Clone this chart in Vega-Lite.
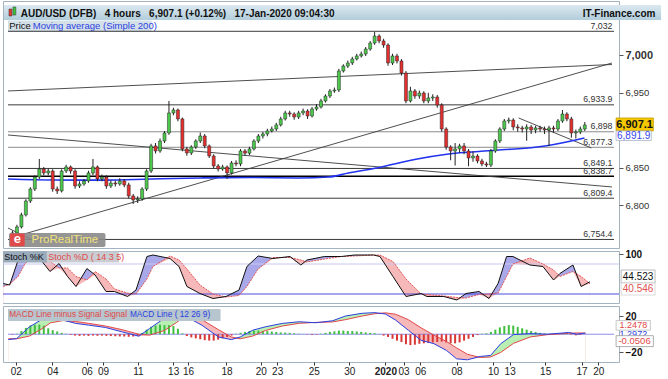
{
"$schema":"https://vega.github.io/schema/vega-lite/v6.json",
"background":"white",
"padding":{"left":0,"top":0,"right":0,"bottom":0},
"spacing":3,
"bounds":"flush",
"config":{"font":"Liberation Sans","view":{"stroke":"#a3b3bf","strokeWidth":1}},
"datasets":{
"one":[{}],
"candles":[
{"b":1.5,"o":6754,"h":6766,"l":6751,"c":6763.1},{"b":3,"o":6763.1,"h":6774,"l":6760,"c":6771.1},{"b":4.5,"o":6771.1,"h":6790,"l":6769,"c":6787.1},{"b":6,"o":6787.1,"h":6808,"l":6785,"c":6805.7},{"b":7.5,"o":6805.7,"h":6824,"l":6803,"c":6821.7},{"b":9,"o":6821.7,"h":6840,"l":6819,"c":6837.7},{"b":10.5,"o":6837.7,"h":6861.7,"l":6835,"c":6848.4},{"b":12,"o":6848.4,"h":6851,"l":6840,"c":6843.1},{"b":13.5,"o":6843.1,"h":6849,"l":6840,"c":6845.7},{"b":15,"o":6845.7,"h":6848,"l":6818,"c":6821.7},
{"b":16.5,"o":6821.7,"h":6825,"l":6815,"c":6819.1},{"b":18,"o":6819.1,"h":6848,"l":6817,"c":6845.7},{"b":19.5,"o":6845.7,"h":6854,"l":6843,"c":6851.1},{"b":21,"o":6851.1,"h":6853,"l":6842,"c":6845.7},{"b":22.5,"o":6845.7,"h":6848,"l":6822,"c":6825.7},{"b":24,"o":6825.7,"h":6832,"l":6823,"c":6828.4},{"b":25.5,"o":6828.4,"h":6835,"l":6826,"c":6832.4},{"b":27,"o":6832.4,"h":6846,"l":6830,"c":6843.1},{"b":28.5,"o":6843.1,"h":6861.7,"l":6840,"c":6851.1},{"b":30,"o":6851.1,"h":6853,"l":6832,"c":6835.1},
{"b":31.5,"o":6835.1,"h":6841,"l":6832,"c":6837.7},{"b":33,"o":6837.7,"h":6840,"l":6822,"c":6825.7},{"b":34.5,"o":6825.7,"h":6833,"l":6823,"c":6829.7},{"b":36,"o":6829.7,"h":6833,"l":6825,"c":6828.4},{"b":37.5,"o":6828.4,"h":6836,"l":6826,"c":6832.4},{"b":39,"o":6832.4,"h":6835,"l":6824,"c":6827.1},{"b":40.5,"o":6827.1,"h":6830,"l":6809,"c":6812.4},{"b":42,"o":6812.4,"h":6815,"l":6801.7,"c":6807.1},{"b":43.5,"o":6807.1,"h":6812,"l":6803,"c":6808.4},{"b":45,"o":6808.4,"h":6824,"l":6806,"c":6821.7},
{"b":46.5,"o":6821.7,"h":6848,"l":6819,"c":6845.7},{"b":48,"o":6845.7,"h":6882,"l":6843,"c":6879.1},{"b":49.5,"o":6879.1,"h":6883,"l":6869,"c":6872.4},{"b":51,"o":6872.4,"h":6889,"l":6870,"c":6885.7},{"b":52.5,"o":6885.7,"h":6899,"l":6883,"c":6896.4},{"b":54,"o":6896.4,"h":6939.1,"l":6894,"c":6923.1},{"b":55.5,"o":6923.1,"h":6930,"l":6920,"c":6927.1},{"b":57,"o":6927.1,"h":6929,"l":6912,"c":6915.1},{"b":58.5,"o":6915.1,"h":6917,"l":6872,"c":6875.1},{"b":60,"o":6875.1,"h":6878,"l":6866,"c":6869.7},
{"b":61.5,"o":6869.7,"h":6880,"l":6867,"c":6877.7},{"b":63,"o":6877.7,"h":6888,"l":6875,"c":6885.7},{"b":64.5,"o":6885.7,"h":6897,"l":6883,"c":6892.4},{"b":66,"o":6892.4,"h":6895,"l":6876,"c":6879.1},{"b":67.5,"o":6879.1,"h":6881,"l":6863,"c":6865.7},{"b":69,"o":6865.7,"h":6868,"l":6849,"c":6852.4},{"b":70.5,"o":6852.4,"h":6855,"l":6845,"c":6848.4},{"b":72,"o":6848.4,"h":6854,"l":6846,"c":6851.1},{"b":73.5,"o":6851.1,"h":6853,"l":6835,"c":6843.1},{"b":75,"o":6843.1,"h":6859,"l":6841,"c":6856.4},
{"b":76.5,"o":6856.4,"h":6860,"l":6852,"c":6855.1},{"b":78,"o":6855.1,"h":6875,"l":6852,"c":6872.4},{"b":79.5,"o":6872.4,"h":6875,"l":6866,"c":6869.5},{"b":81,"o":6869.5,"h":6878,"l":6867,"c":6875.1},{"b":82.5,"o":6875.1,"h":6888,"l":6873,"c":6885.7},{"b":84,"o":6885.7,"h":6895,"l":6883,"c":6892.4},{"b":85.5,"o":6892.4,"h":6898,"l":6889,"c":6895.1},{"b":87,"o":6895.1,"h":6902,"l":6892,"c":6899.1},{"b":88.5,"o":6899.1,"h":6905,"l":6897,"c":6901.7},{"b":90,"o":6901.7,"h":6910,"l":6899,"c":6907.1},
{"b":91.5,"o":6907.1,"h":6918,"l":6905,"c":6915.1},{"b":93,"o":6915.1,"h":6926,"l":6913,"c":6923.1},{"b":94.5,"o":6923.1,"h":6926,"l":6918,"c":6921.7},{"b":96,"o":6921.7,"h":6924,"l":6914,"c":6917.7},{"b":97.5,"o":6917.7,"h":6926,"l":6915,"c":6923.1},{"b":99,"o":6923.1,"h":6929,"l":6920,"c":6925.7},{"b":100.5,"o":6925.7,"h":6928,"l":6915,"c":6919.1},{"b":102,"o":6919.1,"h":6931,"l":6917,"c":6928.4},{"b":103.5,"o":6928.4,"h":6935,"l":6926,"c":6931.1},{"b":105,"o":6931.1,"h":6942,"l":6929,"c":6939.1},
{"b":106.5,"o":6939.1,"h":6948,"l":6937,"c":6945.7},{"b":108,"o":6945.7,"h":6955,"l":6943,"c":6952.4},{"b":109.5,"o":6952.4,"h":6957,"l":6950,"c":6953.7},{"b":111,"o":6953.7,"h":6982,"l":6951,"c":6979.1},{"b":112.5,"o":6979.1,"h":6988,"l":6977,"c":6985.7},{"b":114,"o":6985.7,"h":6993,"l":6983,"c":6989.7},{"b":115.5,"o":6989.7,"h":6998,"l":6987,"c":6995.1},{"b":117,"o":6995.1,"h":7002,"l":6993,"c":6999.1},{"b":118.5,"o":6999.1,"h":7005,"l":6997,"c":7001.7},{"b":120,"o":7001.7,"h":7011,"l":6999,"c":7008.4},
{"b":121.5,"o":7008.4,"h":7019,"l":7006,"c":7016.4},{"b":123,"o":7016.4,"h":7031,"l":7014,"c":7025.7},{"b":124.5,"o":7025.7,"h":7028,"l":7016,"c":7019.1},{"b":126,"o":7019.1,"h":7022,"l":7010,"c":7013.7},{"b":127.5,"o":7013.7,"h":7016,"l":6986,"c":6989.7},{"b":129,"o":6989.7,"h":7002,"l":6987,"c":6999.1},{"b":130.5,"o":6999.1,"h":7002,"l":6989,"c":6992.4},{"b":132,"o":6992.4,"h":6995,"l":6973,"c":6976.4},{"b":133.5,"o":6976.4,"h":6979,"l":6936,"c":6939.1},{"b":135,"o":6939.1,"h":6958,"l":6937,"c":6952.4},
{"b":136.5,"o":6952.4,"h":6955,"l":6942,"c":6945.7},{"b":138,"o":6945.7,"h":6953,"l":6942,"c":6949.7},{"b":139.5,"o":6949.7,"h":6952,"l":6936,"c":6939.1},{"b":141,"o":6939.1,"h":6950,"l":6936,"c":6943.1},{"b":142.5,"o":6943.1,"h":6948,"l":6939,"c":6944.4},{"b":144,"o":6944.4,"h":6947,"l":6930,"c":6933.7},{"b":145.5,"o":6933.7,"h":6936,"l":6898,"c":6901.7},{"b":147,"o":6901.7,"h":6904,"l":6874,"c":6877.7},{"b":148.5,"o":6877.7,"h":6880,"l":6860,"c":6872.4},{"b":150,"o":6872.4,"h":6883,"l":6853,"c":6875.1},
{"b":151.5,"o":6875.1,"h":6882,"l":6870,"c":6879.1},{"b":153,"o":6879.1,"h":6883,"l":6868,"c":6872.4},{"b":154.5,"o":6872.4,"h":6875,"l":6852,"c":6863.1},{"b":156,"o":6863.1,"h":6872,"l":6858,"c":6865.7},{"b":157.5,"o":6865.7,"h":6868,"l":6856,"c":6859.1},{"b":159,"o":6859.1,"h":6862,"l":6852,"c":6855.1},{"b":160.5,"o":6855.1,"h":6858,"l":6851,"c":6853.7},{"b":162,"o":6853.7,"h":6875,"l":6851,"c":6872.4},{"b":163.5,"o":6872.4,"h":6888,"l":6870,"c":6885.7},{"b":165,"o":6885.7,"h":6904,"l":6883,"c":6901.7},
{"b":166.5,"o":6901.7,"h":6915,"l":6899,"c":6912.4},{"b":168,"o":6912.4,"h":6917,"l":6909,"c":6913.7},{"b":169.5,"o":6913.7,"h":6916,"l":6900,"c":6904.4},{"b":171,"o":6904.4,"h":6908,"l":6898,"c":6903.1},{"b":172.5,"o":6903.1,"h":6906,"l":6897,"c":6901.7},{"b":174,"o":6901.7,"h":6908,"l":6886,"c":6904.4},{"b":175.5,"o":6904.4,"h":6907,"l":6895,"c":6900.4},{"b":177,"o":6900.4,"h":6906,"l":6896,"c":6903.1},{"b":178.5,"o":6903.1,"h":6906,"l":6898,"c":6901.7},{"b":180,"o":6901.7,"h":6905,"l":6895,"c":6900.4},
{"b":181.5,"o":6900.4,"h":6906,"l":6879,"c":6903.1},{"b":183,"o":6903.1,"h":6906,"l":6897,"c":6901.7},{"b":184.5,"o":6901.7,"h":6915,"l":6899,"c":6912.4},{"b":186,"o":6912.4,"h":6927,"l":6910,"c":6921.7},{"b":187.5,"o":6921.7,"h":6924,"l":6912,"c":6915.1},{"b":189,"o":6915.1,"h":6918,"l":6890,"c":6896.4},{"b":190.5,"o":6896.4,"h":6901,"l":6889,"c":6897.7},{"b":192,"o":6897.7,"h":6905,"l":6895,"c":6901.7},{"b":193.5,"o":6901.7,"h":6911,"l":6899,"c":6907.1}
],
"ma":[{"b":0,"v":6835},{"b":15.2,"v":6833.7},{"b":31.7,"v":6833.5},{"b":48.2,"v":6835},{"b":64.7,"v":6836.4},{"b":81.2,"v":6837},{"b":97.7,"v":6836.4},{"b":107.6,"v":6837.7},{"b":114.2,"v":6843},{"b":124.1,"v":6850},{"b":137.3,"v":6861.7},{"b":147.2,"v":6868},{"b":163.7,"v":6873.3},{"b":180.2,"v":6879},{"b":193.4,"v":6889.7}],
"levels":[{"v":7032,"label":"7,032","kind":"a"},{"v":6933.9,"label":"6,933.9","kind":"a"},{"v":6898,"label":"6,898","kind":"b"},{"v":6877.3,"label":"6,877.3","kind":"b"},{"v":6849.1,"label":"6,849.1","kind":"a"},{"v":6838.7,"label":"6,838.7","kind":"c"},{"v":6809.4,"label":"6,809.4","kind":"a"},{"v":6754.4,"label":"6,754.4","kind":"a"}],
"trend":[{"g":"A","b":0,"v":6952.4},{"g":"A","b":202.6,"v":6987.7},{"g":"B","b":2,"v":6757.7},{"g":"B","b":202.6,"v":6989.7},{"g":"C","b":0,"v":6893.7},{"g":"C","b":202.6,"v":6824.4},{"g":"D","b":171.3,"v":6916.4},{"g":"D","b":195.7,"v":6876.4},{"g":"E","b":0,"v":6769.7},{"g":"E","b":8,"v":6754}],
"st":[{"b":0.1,"k":41,"d":35,"lo":35},{"b":2.2,"k":38,"d":40,"lo":38},{"b":5,"k":88,"d":55,"lo":55},{"b":7.2,"k":98,"d":80,"lo":80},{"b":9.9,"k":98,"d":95,"lo":95},{"b":12.9,"k":85,"d":95,"lo":85},{"b":15.5,"k":65,"d":85,"lo":65},{"b":18.5,"k":81,"d":72,"lo":72},{"b":21.3,"k":55,"d":72,"lo":55},{"b":24.1,"k":35,"d":55,"lo":35},{"b":27.7,"k":71,"d":48,"lo":48},{"b":30.4,"k":58,"d":65,"lo":58},{"b":34,"k":25,"d":50,"lo":25},{"b":36.8,"k":25,"d":30,"lo":25},{"b":41.1,"k":15,"d":22,"lo":15},{"b":43.9,"k":28,"d":20,"lo":20},{"b":47.5,"k":95,"d":50,"lo":50},{"b":49.5,"k":98,"d":75,"lo":75},{"b":55.1,"k":91,"d":96,"lo":91},{"b":58.1,"k":75,"d":88,"lo":75},{"b":60.7,"k":35,"d":70,"lo":35},{"b":65,"k":21,"d":38,"lo":21},{"b":69.3,"k":11,"d":20,"lo":11},{"b":73.6,"k":15,"d":14,"lo":14},{"b":77.9,"k":28,"d":17,"lo":17},{"b":80.5,"k":75,"d":35,"lo":35},{"b":84.2,"k":96,"d":70,"lo":70},{"b":89.1,"k":91,"d":93,"lo":91},{"b":94.7,"k":95,"d":93,"lo":93},{"b":98.3,"k":78,"d":88,"lo":78},{"b":100.3,"k":88,"d":84,"lo":84},{"b":106.1,"k":95,"d":90,"lo":90},{"b":111.7,"k":95,"d":95,"lo":95},{"b":116,"k":98,"d":96,"lo":96},{"b":122.3,"k":98,"d":98,"lo":98},{"b":124.4,"k":95,"d":98,"lo":95},{"b":128.7,"k":55,"d":85,"lo":55},{"b":133,"k":15,"d":50,"lo":15},{"b":138,"k":21,"d":20,"lo":20},{"b":139.9,"k":15,"d":19,"lo":15},{"b":145.5,"k":15,"d":16,"lo":15},{"b":149.8,"k":8,"d":13,"lo":8},{"b":152.8,"k":21,"d":12,"lo":12},{"b":157.1,"k":25,"d":19,"lo":19},{"b":160.4,"k":11,"d":20,"lo":11},{"b":163.4,"k":41,"d":22,"lo":22},{"b":166.2,"k":95,"d":55,"lo":55},{"b":168.3,"k":95,"d":80,"lo":80},{"b":173.9,"k":78,"d":92,"lo":78},{"b":178.2,"k":75,"d":80,"lo":75},{"b":181.7,"k":48,"d":68,"lo":48},{"b":183.8,"k":61,"d":55,"lo":55},{"b":188.1,"k":78,"d":65,"lo":65},{"b":190.8,"k":35,"d":55,"lo":35},{"b":193.7,"k":44.5,"d":40.5,"lo":40.5}],
"md":[{"b":0.1,"m":-5.9,"s":-5,"lo":-5.9},{"b":2.9,"m":-4.8,"s":-5,"lo":-5},{"b":7.2,"m":8.1,"s":-2,"lo":-2},{"b":11.4,"m":16.3,"s":6,"lo":6},{"b":14.2,"m":17.4,"s":12.5,"lo":12.5},{"b":18.5,"m":15.6,"s":15,"lo":15},{"b":22.7,"m":11.9,"s":14,"lo":11.9},{"b":27,"m":10,"s":12,"lo":10},{"b":32.7,"m":7.4,"s":9,"lo":7.4},{"b":38.3,"m":2.6,"s":5,"lo":2.6},{"b":43.9,"m":-2.2,"s":0,"lo":-2.2},{"b":47.5,"m":6.3,"s":-1,"lo":-1},{"b":52.4,"m":17.4,"s":4,"lo":4},{"b":56.6,"m":23.7,"s":13,"lo":13},{"b":59.4,"m":20,"s":20,"lo":20},{"b":65,"m":10,"s":16,"lo":10},{"b":70.6,"m":-3,"s":5,"lo":-3},{"b":74.9,"m":-5.9,"s":-3,"lo":-5.9},{"b":77.9,"m":-3,"s":-5,"lo":-5},{"b":82.1,"m":4.4,"s":-2,"lo":-2},{"b":86.3,"m":8.1,"s":4,"lo":4},{"b":92,"m":11.9,"s":9,"lo":9},{"b":97.7,"m":13.7,"s":12,"lo":12},{"b":103.3,"m":12.6,"s":13,"lo":12.6},{"b":108.9,"m":14.8,"s":13.5,"lo":13.5},{"b":113.2,"m":20,"s":16,"lo":16},{"b":118.8,"m":23,"s":20,"lo":20},{"b":123.1,"m":23.7,"s":22.5,"lo":22.5},{"b":126.6,"m":22.2,"s":23.5,"lo":22.2},{"b":130,"m":15.6,"s":22,"lo":15.6},{"b":134.3,"m":4.4,"s":16,"lo":4.4},{"b":138.6,"m":-6.7,"s":7,"lo":-6.7},{"b":142.9,"m":-10.4,"s":-1,"lo":-10.4},{"b":147.1,"m":-17.8,"s":-8,"lo":-17.8},{"b":150.5,"m":-27,"s":-15,"lo":-27},{"b":154.1,"m":-28.1,"s":-22,"lo":-28.1},{"b":158.4,"m":-24.4,"s":-25.5,"lo":-25.5},{"b":161.9,"m":-23.3,"s":-25,"lo":-25},{"b":165.3,"m":-10.4,"s":-20,"lo":-20},{"b":169.6,"m":-0.4,"s":-10,"lo":-10},{"b":175.2,"m":0.7,"s":-3,"lo":-3},{"b":180.9,"m":0,"s":-0.5,"lo":-0.5},{"b":188.1,"m":1.9,"s":1,"lo":1},{"b":190.8,"m":0,"s":1.4,"lo":0},{"b":193.7,"m":1.25,"s":1.3,"lo":1.25}],
"hi":[{"b":1.5,"h":-0.5},{"b":3,"h":0.5},{"b":4.5,"h":3.5},{"b":6,"h":7},{"b":7.5,"h":9.5},{"b":9,"h":10.5},{"b":10.5,"h":10.5},{"b":12,"h":9.5},{"b":13.5,"h":6.5},{"b":15,"h":4.5},{"b":16.5,"h":3},{"b":18,"h":1.5},{"b":19.5,"h":0.5},{"b":21,"h":-0.8},{"b":22.5,"h":-1.5},{"b":24,"h":-1.8},{"b":25.5,"h":-1.5},{"b":27,"h":-1.8},{"b":28.5,"h":-1.5},{"b":30,"h":-1.7},{"b":31.5,"h":-1.5},{"b":33,"h":-1.8},{"b":34.5,"h":-2},{"b":36,"h":-2.2},{"b":37.5,"h":-2.4},{"b":39,"h":-2.5},{"b":40.5,"h":-2.8},{"b":42,"h":-2.5},{"b":43.5,"h":-1.8},{"b":45,"h":1.5},{"b":46.5,"h":5},{"b":48,"h":8},{"b":49.5,"h":9.5},{"b":51,"h":10.5},{"b":52.5,"h":10},{"b":54,"h":10},{"b":55.5,"h":9},{"b":57,"h":6},{"b":58.5,"h":1},{"b":60,"h":-2},{"b":61.5,"h":-3.5},{"b":63,"h":-4.5},{"b":64.5,"h":-5.5},{"b":66,"h":-6.5},{"b":67.5,"h":-7},{"b":69,"h":-7},{"b":70.5,"h":-6},{"b":72,"h":-4.5},{"b":73.5,"h":-3},{"b":75,"h":-1.5},{"b":76.5,"h":0.5},{"b":78,"h":1.5},{"b":79.5,"h":2.5},{"b":81,"h":3.5},{"b":82.5,"h":4},{"b":84,"h":4},{"b":85.5,"h":3.5},{"b":87,"h":3.5},{"b":88.5,"h":3},{"b":90,"h":2.5},{"b":91.5,"h":2},{"b":93,"h":1.8},{"b":94.5,"h":1.5},{"b":96,"h":1},{"b":97.5,"h":0.5},{"b":99,"h":0.2},{"b":100.5,"h":-0.3},{"b":102,"h":-0.8},{"b":103.5,"h":-0.5},{"b":105,"h":0.5},{"b":106.5,"h":1.5},{"b":108,"h":2.5},{"b":109.5,"h":3.2},{"b":111,"h":4},{"b":112.5,"h":4},{"b":114,"h":3.5},{"b":115.5,"h":3.5},{"b":117,"h":3},{"b":118.5,"h":2.5},{"b":120,"h":2},{"b":121.5,"h":1.5},{"b":123,"h":1.2},{"b":124.5,"h":0.3},{"b":126,"h":-1.5},{"b":127.5,"h":-3},{"b":129,"h":-5},{"b":130.5,"h":-7},{"b":132,"h":-8.5},{"b":133.5,"h":-11},{"b":135,"h":-12},{"b":136.5,"h":-11.5},{"b":138,"h":-10.5},{"b":139.5,"h":-10},{"b":141,"h":-9.5},{"b":142.5,"h":-9},{"b":144,"h":-8.5},{"b":145.5,"h":-8},{"b":147,"h":-9},{"b":148.5,"h":-10},{"b":150,"h":-10},{"b":151.5,"h":-9},{"b":153,"h":-7},{"b":154.5,"h":-5},{"b":156,"h":-3},{"b":157.5,"h":-1},{"b":159,"h":0.5},{"b":160.5,"h":1},{"b":162,"h":2.5},{"b":163.5,"h":5},{"b":165,"h":7.5},{"b":166.5,"h":9},{"b":168,"h":10},{"b":169.5,"h":9.5},{"b":171,"h":8},{"b":172.5,"h":6.5},{"b":174,"h":5},{"b":175.5,"h":3.5},{"b":177,"h":2.5},{"b":178.5,"h":1.5},{"b":180,"h":0.8},{"b":181.5,"h":0.4},{"b":183,"h":0.3},{"b":184.5,"h":0.6},{"b":186,"h":1.2},{"b":187.5,"h":1},{"b":189,"h":-0.5},{"b":190.5,"h":-1.2},{"b":192,"h":-0.8},{"b":193.5,"h":-0.05}]
},
"vconcat":[
{"width":616,"height":247,
"resolve":{"axis":{"x":"independent","y":"independent"}},
"layer":[
{"data":{"name":"candles"},"mark":{"type":"rule","color":"#222","strokeWidth":1,"opacity":0},
 "encoding":{"x":{"field":"b","type":"quantitative","scale":{"domain":[0,203.3],"nice":false,"zero":false},"axis":null},"y":{"field":"l","type":"quantitative","scale":{"domain":[6743,7072.4],"nice":false,"zero":false},"axis":{"orient":"right","values":[6800,6850,6950,7000],"format":",.0f","title":null,"grid":false,"domain":false,"ticks":true,"tickSize":4,"tickColor":"#555","labelPadding":2,"labelColor":"#333","labelFontSize":{"condition":{"test":"datum.value == 7000","value":11},"value":9.5},"labelFontWeight":{"condition":{"test":"datum.value == 7000","value":"bold"},"value":"normal"}}},"y2":{"field":"h"}}},
{"data":{"name":"one"},"mark":{"type":"rect","clip":false,"fill":{"gradient":"linear","x1":0,"y1":0,"x2":0,"y2":1,"stops":[{"offset":0,"color":"#dce9f0"},{"offset":1,"color":"#b2cddb"}]}},
 "encoding":{"x":{"datum":-1.32,"type":"quantitative","axis":null},"x2":{"datum":219.1},"y":{"datum":7067.1,"type":"quantitative","axis":null},"y2":{"datum":7047.1}}},
{"data":{"name":"one"},"mark":{"type":"rect","fill":"#e23a2e","stroke":"#333","strokeWidth":0.5},
 "encoding":{"x":{"datum":0.33,"type":"quantitative","axis":null},"x2":{"datum":1.32},"y":{"datum":7061.7,"type":"quantitative","axis":null},"y2":{"datum":7052.4}}},
{"data":{"name":"one"},"mark":{"type":"rect","fill":"#3cc23c","stroke":"#333","strokeWidth":0.5},
 "encoding":{"x":{"datum":1.65,"type":"quantitative","axis":null},"x2":{"datum":2.64},"y":{"datum":7064.4,"type":"quantitative","axis":null},"y2":{"datum":7053.7}}},
{"data":{"name":"one"},"mark":{"type":"text","text":"AUD/USD (DFB)\u00a0\u00a0\u00a04 hours\u00a0\u00a0\u00a06,907.1 (+0.12%)\u00a0\u00a0\u00a017-Jan-2020 09:04:30","align":"left","baseline":"middle","fontSize":10,"fontWeight":"bold","color":"#111"},
 "encoding":{"x":{"datum":4.29,"type":"quantitative","axis":null},"y":{"datum":7055.7,"type":"quantitative","axis":null}}},
{"data":{"name":"one"},"mark":{"type":"text","text":"IT-Finance.com","align":"right","baseline":"middle","fontSize":10,"fontWeight":"bold","color":"#111","clip":false},
 "encoding":{"x":{"datum":217.2,"type":"quantitative","axis":null},"y":{"datum":7055.7,"type":"quantitative","axis":null}}},
{"data":{"name":"one"},"mark":{"type":"rect","fill":"#d4e0e8"},
 "encoding":{"x":{"datum":0,"type":"quantitative","axis":null},"x2":{"datum":48.2},"y":{"datum":7046.4,"type":"quantitative","axis":null},"y2":{"datum":7031.6}}},
{"data":{"name":"one"},"mark":{"type":"text","text":"Price","align":"left","baseline":"middle","fontSize":9.5,"color":"#111"},
 "encoding":{"x":{"datum":0.4,"type":"quantitative","axis":null},"y":{"datum":7038.6,"type":"quantitative","axis":null}}},
{"data":{"name":"one"},"mark":{"type":"text","text":"Moving average (Simple 200)","align":"left","baseline":"middle","fontSize":9.5,"color":"#2b3fe0"},
 "encoding":{"x":{"datum":8.3,"type":"quantitative","axis":null},"y":{"datum":7038.6,"type":"quantitative","axis":null}}},
{"data":{"name":"levels"},"mark":{"type":"rule"},
 "encoding":{"x":{"datum":0,"type":"quantitative","axis":null},"x2":{"datum":203.3},"y":{"field":"v","type":"quantitative","axis":null},
  "color":{"field":"kind","type":"nominal","scale":{"domain":["a","b","c"],"range":["#3a3a3a","#8c8c8c","#000000"]},"legend":null},
  "strokeWidth":{"condition":{"test":"datum.kind == 'c'","value":1.6},"value":1}}},
{"data":{"name":"levels"},"mark":{"type":"text","align":"right","baseline":"bottom","dy":-0.5,"fontSize":8.8,"color":"#333"},
 "encoding":{"x":{"datum":202.8,"type":"quantitative","axis":null},"y":{"field":"v","type":"quantitative","axis":null},"text":{"field":"label"}}},
{"data":{"name":"trend"},"mark":{"type":"line","color":"#3a3a3a","strokeWidth":0.9},
 "encoding":{"x":{"field":"b","type":"quantitative","axis":null},"y":{"field":"v","type":"quantitative","axis":null},"detail":{"field":"g"}}},
{"data":{"name":"ma"},"mark":{"type":"line","color":"#2233ee","strokeWidth":1.6,"interpolate":"monotone"},
 "encoding":{"x":{"field":"b","type":"quantitative","axis":null},"y":{"field":"v","type":"quantitative","axis":null}}},
{"data":{"name":"candles"},"mark":{"type":"rule","color":"#222","strokeWidth":1},
 "encoding":{"x":{"field":"b","type":"quantitative","axis":null},"y":{"field":"l","type":"quantitative","axis":null},"y2":{"field":"h"}}},
{"data":{"name":"candles"},"mark":{"type":"bar","size":3,"stroke":"#222","strokeWidth":0.5},
 "encoding":{"x":{"field":"b","type":"quantitative","axis":null},"y":{"field":"o","type":"quantitative","axis":null},"y2":{"field":"c"},
  "color":{"condition":{"test":"datum.c >= datum.o","value":"#4cc94c"},"value":"#e53030"}}},
{"data":{"name":"one"},"mark":{"type":"rect","fill":"#8a8a8a","opacity":0.9,"cornerRadius":2},
 "encoding":{"x":{"datum":0.33,"type":"quantitative","axis":null},"x2":{"datum":32.7},"y":{"datum":6763.1,"type":"quantitative","axis":null},"y2":{"datum":6744.5}}},
{"data":{"name":"one"},"mark":{"type":"rect","fill":"#e04a4a","cornerRadius":1},
 "encoding":{"x":{"datum":0.66,"type":"quantitative","axis":null},"x2":{"datum":5.6},"y":{"datum":6762.4,"type":"quantitative","axis":null},"y2":{"datum":6745.2}}},
{"data":{"name":"one"},"mark":{"type":"text","text":"e","align":"center","baseline":"middle","fontSize":13,"fontWeight":"bold","color":"white"},
 "encoding":{"x":{"datum":3.13,"type":"quantitative","axis":null},"y":{"datum":6754.5,"type":"quantitative","axis":null}}},
{"data":{"name":"one"},"mark":{"type":"text","text":"ProRealTime","align":"left","baseline":"middle","fontSize":11.5,"color":"#f2e27a"},
 "encoding":{"x":{"datum":7.9,"type":"quantitative","axis":null},"y":{"datum":6753.2,"type":"quantitative","axis":null}}},
{"data":{"name":"one"},"mark":{"type":"rect","fill":"#f5c800","stroke":"#c49a00","strokeWidth":0.8,"clip":false},
 "encoding":{"x":{"datum":204,"type":"quantitative","axis":null},"x2":{"datum":216.5},"y":{"datum":6916.4,"type":"quantitative","axis":null},"y2":{"datum":6899.1}}},
{"data":{"name":"one"},"mark":{"type":"text","text":"6,907.1","align":"center","baseline":"middle","fontSize":11,"fontWeight":"bold","color":"#111","clip":false},
 "encoding":{"x":{"datum":210.2,"type":"quantitative","axis":null},"y":{"datum":6907.7,"type":"quantitative","axis":null}}},
{"data":{"name":"one"},"mark":{"type":"rect","fill":"white","stroke":"#aab4c8","strokeWidth":0.8,"clip":false},
 "encoding":{"x":{"datum":204,"type":"quantitative","axis":null},"x2":{"datum":215.8},"y":{"datum":6899.1,"type":"quantitative","axis":null},"y2":{"datum":6886.4}}},
{"data":{"name":"one"},"mark":{"type":"text","text":"6,891.9","align":"center","baseline":"middle","fontSize":10,"color":"#3344ee","clip":false},
 "encoding":{"x":{"datum":209.9,"type":"quantitative","axis":null},"y":{"datum":6892.6,"type":"quantitative","axis":null}}}
]},
{"width":616,"height":52,
"resolve":{"axis":{"x":"independent","y":"independent"}},
"layer":[
{"data":{"name":"st"},"mark":{"type":"area","color":"#a9a9ea"},
 "encoding":{"x":{"field":"b","type":"quantitative","scale":{"domain":[0,203.3],"nice":false,"zero":false},"axis":null},"y":{"field":"k","type":"quantitative","scale":{"domain":[2,106],"nice":false,"zero":false},"axis":{"orient":"right","values":[100],"title":null,"grid":false,"domain":false,"tickSize":4,"tickColor":"#555","labelPadding":2,"labelFontSize":10,"labelFontWeight":"bold","labelColor":"#111"}},"y2":{"datum":2}}},
{"data":{"name":"st"},"mark":{"type":"area","color":"#f6b8b8"},
 "encoding":{"x":{"field":"b","type":"quantitative","axis":null},"y":{"field":"d","type":"quantitative","axis":null},"y2":{"datum":2}}},
{"data":{"name":"st"},"mark":{"type":"area","color":"white"},
 "encoding":{"x":{"field":"b","type":"quantitative","axis":null},"y":{"field":"lo","type":"quantitative","axis":null},"y2":{"datum":2}}},
{"data":{"name":"one"},"mark":{"type":"rule","color":"#c9c9f0","strokeWidth":1},
 "encoding":{"x":{"datum":0,"type":"quantitative","axis":null},"x2":{"datum":203.3},"y":{"datum":80,"type":"quantitative","axis":null}}},
{"data":{"name":"one"},"mark":{"type":"rule","color":"#4b4be0","strokeWidth":1.2},
 "encoding":{"x":{"datum":0,"type":"quantitative","axis":null},"x2":{"datum":203.3},"y":{"datum":20,"type":"quantitative","axis":null}}},
{"data":{"name":"st"},"mark":{"type":"line","color":"#e25555","strokeWidth":1,"strokeDash":[2,1]},
 "encoding":{"x":{"field":"b","type":"quantitative","axis":null},"y":{"field":"d","type":"quantitative","axis":null}}},
{"data":{"name":"st"},"mark":{"type":"line","color":"#111","strokeWidth":1},
 "encoding":{"x":{"field":"b","type":"quantitative","axis":null},"y":{"field":"k","type":"quantitative","axis":null}}},
{"data":{"name":"one"},"mark":{"type":"rect","fill":"#9aabbb"},
 "encoding":{"x":{"datum":0,"type":"quantitative","axis":null},"x2":{"datum":14.5},"y":{"datum":105,"type":"quantitative","axis":null},"y2":{"datum":83}}},
{"data":{"name":"one"},"mark":{"type":"rect","fill":"#c9cdd2"},
 "encoding":{"x":{"datum":14.5,"type":"quantitative","axis":null},"x2":{"datum":38.3},"y":{"datum":105,"type":"quantitative","axis":null},"y2":{"datum":83}}},
{"data":{"name":"one"},"mark":{"type":"text","text":"Stoch %K","align":"left","baseline":"middle","fontSize":9,"color":"#111"},
 "encoding":{"x":{"datum":0.4,"type":"quantitative","axis":null},"y":{"datum":94,"type":"quantitative","axis":null}}},
{"data":{"name":"one"},"mark":{"type":"text","text":"Stoch %D ( 14 3 5)","align":"left","baseline":"middle","fontSize":9,"color":"#e04a4a"},
 "encoding":{"x":{"datum":14.9,"type":"quantitative","axis":null},"y":{"datum":94,"type":"quantitative","axis":null}}},
{"data":{"name":"one"},"mark":{"type":"rect","fill":"white","stroke":"#aaaaaa","strokeWidth":0.8,"clip":false},
 "encoding":{"x":{"datum":204,"type":"quantitative","axis":null},"x2":{"datum":215.2},"y":{"datum":68,"type":"quantitative","axis":null},"y2":{"datum":42}}},
{"data":{"name":"one"},"mark":{"type":"text","text":"44.523","align":"center","baseline":"middle","fontSize":10,"color":"#111","clip":false},
 "encoding":{"x":{"datum":209.6,"type":"quantitative","axis":null},"y":{"datum":55,"type":"quantitative","axis":null}}},
{"data":{"name":"one"},"mark":{"type":"rect","fill":"white","stroke":"#d0d0d0","strokeWidth":0.8,"clip":false},
 "encoding":{"x":{"datum":204,"type":"quantitative","axis":null},"x2":{"datum":215.2},"y":{"datum":42,"type":"quantitative","axis":null},"y2":{"datum":18}}},
{"data":{"name":"one"},"mark":{"type":"text","text":"40.546","align":"center","baseline":"middle","fontSize":10,"color":"#e05050","clip":false},
 "encoding":{"x":{"datum":209.6,"type":"quantitative","axis":null},"y":{"datum":30,"type":"quantitative","axis":null}}}
]},
{"width":616,"height":56,
"resolve":{"axis":{"x":"independent","y":"independent"}},
"layer":[
{"data":{"name":"md"},"mark":{"type":"area","color":"#b9efb3"},
 "encoding":{"x":{"field":"b","type":"quantitative","scale":{"domain":[0,203.3],"nice":false,"zero":false},
   "axis":{"orient":"bottom","values":[2.6,14.9,26.4,31.9,43.6,55.4,60.4,73.3,84.8,90.3,102.6,114.5,126.6,132.7,138.3,150.5,162.7,168.3,180.2,192.4,198],
   "labelExpr":"datum.value < 3 ? '02' : datum.value < 15 ? '04' : datum.value < 27 ? '06' : datum.value < 32 ? '09' : datum.value < 44 ? '11' : datum.value < 56 ? '13' : datum.value < 61 ? '16' : datum.value < 74 ? '18' : datum.value < 85 ? '20' : datum.value < 91 ? '23' : datum.value < 103 ? '25' : datum.value < 115 ? '30' : datum.value < 127 ? '2020' : datum.value < 133 ? '03' : datum.value < 139 ? '06' : datum.value < 151 ? '08' : datum.value < 163 ? '10' : datum.value < 169 ? '13' : datum.value < 181 ? '15' : datum.value < 193 ? '17' : '20'",
   "labelOverlap":false,"labelFlush":false,"labelBound":false,"domain":false,"ticks":true,"tickSize":3,"tickColor":"#333","labelPadding":1,"labelFontSize":10,"labelColor":"#222","title":null,"grid":false,
   "labelFontWeight":{"condition":{"test":"datum.value == 126.6","value":"bold"},"value":"normal"}}},
  "y":{"field":"m","type":"quantitative","scale":{"domain":[-30.5,31],"nice":false,"zero":false},"axis":{"orient":"right","values":[20,-20],"title":null,"grid":false,"domain":false,"tickSize":4,"tickColor":"#555","labelPadding":2,"labelFontSize":10,"labelFontWeight":"bold","labelColor":"#111"}},"y2":{"datum":-30.5}}},
{"data":{"name":"md"},"mark":{"type":"area","color":"#f6b8b8"},
 "encoding":{"x":{"field":"b","type":"quantitative","axis":null},"y":{"field":"s","type":"quantitative","axis":null},"y2":{"datum":-30.5}}},
{"data":{"name":"md"},"mark":{"type":"area","color":"white"},
 "encoding":{"x":{"field":"b","type":"quantitative","axis":null},"y":{"field":"lo","type":"quantitative","axis":null},"y2":{"datum":-30.5}}},
{"data":{"name":"one"},"mark":{"type":"rule","color":"#8c8cec","strokeWidth":1},
 "encoding":{"x":{"datum":0,"type":"quantitative","axis":null},"x2":{"datum":203.3},"y":{"datum":0,"type":"quantitative","axis":null}}},
{"data":{"name":"hi"},"mark":{"type":"bar","size":2},
 "encoding":{"x":{"field":"b","type":"quantitative","axis":null},"y":{"field":"h","type":"quantitative","axis":null},"y2":{"datum":0},
  "color":{"condition":{"test":"datum.h >= 0","value":"#3fbf3f"},"value":"#d93636"}}},
{"data":{"name":"md"},"mark":{"type":"line","color":"#e04848","strokeWidth":1},
 "encoding":{"x":{"field":"b","type":"quantitative","axis":null},"y":{"field":"s","type":"quantitative","axis":null}}},
{"data":{"name":"md"},"mark":{"type":"line","color":"#2b3fe0","strokeWidth":1},
 "encoding":{"x":{"field":"b","type":"quantitative","axis":null},"y":{"field":"m","type":"quantitative","axis":null}}},
{"data":{"name":"one"},"mark":{"type":"rect","fill":"#b7c5ce"},
 "encoding":{"x":{"datum":0,"type":"quantitative","axis":null},"x2":{"datum":71.3},"y":{"datum":27.8,"type":"quantitative","axis":null},"y2":{"datum":14.4}}},
{"data":{"name":"one"},"mark":{"type":"text","text":"MACD Line minus Signal","align":"left","baseline":"middle","fontSize":8.3,"color":"#e04848"},
 "encoding":{"x":{"datum":0.4,"type":"quantitative","axis":null},"y":{"datum":21.1,"type":"quantitative","axis":null}}},
{"data":{"name":"one"},"mark":{"type":"text","text":"Signal","align":"left","baseline":"middle","fontSize":8.3,"color":"#e04848"},
 "encoding":{"x":{"datum":32.2,"type":"quantitative","axis":null},"y":{"datum":21.1,"type":"quantitative","axis":null}}},
{"data":{"name":"one"},"mark":{"type":"text","text":"MACD Line ( 12 26 9)","align":"left","baseline":"middle","fontSize":8.3,"color":"#2b3fe0"},
 "encoding":{"x":{"datum":40.9,"type":"quantitative","axis":null},"y":{"datum":21.1,"type":"quantitative","axis":null}}},
{"data":{"name":"one"},"mark":{"type":"rect","fill":"white","stroke":"#bbbbbb","strokeWidth":0.8,"clip":false},
 "encoding":{"x":{"datum":204,"type":"quantitative","axis":null},"x2":{"datum":215.5},"y":{"datum":15,"type":"quantitative","axis":null},"y2":{"datum":4.5}}},
{"data":{"name":"one"},"mark":{"type":"text","text":"1.2478","align":"center","baseline":"middle","fontSize":9,"color":"#e04848","clip":false},
 "encoding":{"x":{"datum":209.8,"type":"quantitative","axis":null},"y":{"datum":9.8,"type":"quantitative","axis":null}}},
{"data":{"name":"one"},"mark":{"type":"text","text":"1.2972","align":"center","baseline":"middle","fontSize":9,"color":"#2b3fe0","clip":false},
 "encoding":{"x":{"datum":209.8,"type":"quantitative","axis":null},"y":{"datum":0.3,"type":"quantitative","axis":null}}},
{"data":{"name":"one"},"mark":{"type":"rect","fill":"white","stroke":"#999999","strokeWidth":0.8,"clip":false},
 "encoding":{"x":{"datum":204,"type":"quantitative","axis":null},"x2":{"datum":216.5},"y":{"datum":-1.6,"type":"quantitative","axis":null},"y2":{"datum":-13.6}}},
{"data":{"name":"one"},"mark":{"type":"text","text":"-0.0506","align":"center","baseline":"middle","fontSize":9.5,"color":"#e04848","clip":false},
 "encoding":{"x":{"datum":210.2,"type":"quantitative","axis":null},"y":{"datum":-7.6,"type":"quantitative","axis":null}}}
]}
]
}
